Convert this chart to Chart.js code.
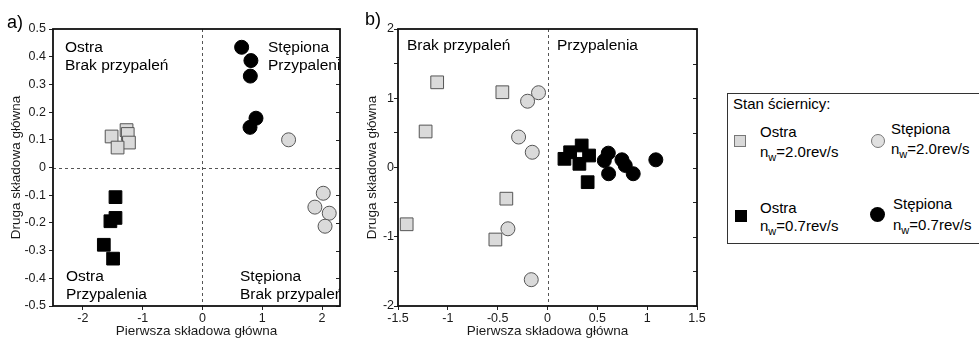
<!DOCTYPE html>
<html>
<head>
<meta charset="utf-8">
<script src="https://cdn.jsdelivr.net/npm/chart.js@4.4.0/dist/chart.umd.min.js"></script>
<style>
body{margin:0;background:#fff;font-family:Arial,"Liberation Sans",sans-serif;color:#000}
#wrap{position:relative;width:979px;height:338px;overflow:hidden}
canvas{position:absolute;top:0}
.t{position:absolute;font-size:15px;line-height:15px;white-space:nowrap}
.sub{font-size:11px;vertical-align:-4px;line-height:0}
.mk{position:absolute;box-sizing:border-box}
.panel{position:absolute;font-size:18px;line-height:18px}
</style>
</head>
<body>
<div id="wrap">
  <canvas id="chartA" width="350" height="338" style="left:0"></canvas>
  <canvas id="chartB" width="360" height="338" style="left:350px"></canvas>
  <div class="panel" style="left:7px;top:13px">a)</div>
  <div class="panel" style="left:365px;top:10px">b)</div>

  <div style="position:absolute;left:727px;top:93px;width:270px;height:151px;border:1.5px solid #333;box-sizing:border-box"></div>
  <div class="t" style="left:733px;top:96px">Stan ściernicy:</div>

  <div class="mk" style="left:734px;top:135px;width:12px;height:12px;background:#d9d9d9;border:1px solid #777"></div>
  <div class="t" style="left:760px;top:124px">Ostra</div>
  <div class="t" style="left:760px;top:144px">n<span class="sub">w</span>=2.0rev/s</div>

  <div class="mk" style="left:871px;top:134px;width:14px;height:14px;background:#e0e0e0;border:1px solid #777;border-radius:50%"></div>
  <div class="t" style="left:891px;top:121px">Stępiona</div>
  <div class="t" style="left:891px;top:141px">n<span class="sub">w</span>=2.0rev/s</div>

  <div class="mk" style="left:735px;top:210px;width:12px;height:12px;background:#000"></div>
  <div class="t" style="left:760px;top:200px">Ostra</div>
  <div class="t" style="left:760px;top:218px">n<span class="sub">w</span>=0.7rev/s</div>

  <div class="mk" style="left:870px;top:207px;width:15px;height:15px;background:#000;border-radius:50%"></div>
  <div class="t" style="left:893px;top:196px">Stępiona</div>
  <div class="t" style="left:893px;top:217px">n<span class="sub">w</span>=0.7rev/s</div>
</div>

<script>
// panel a) points [x, y]
var ostra20A = [[-1.52, 0.112], [-1.27, 0.135], [-1.25, 0.121], [-1.23, 0.090], [-1.42, 0.072]];
var ostra07A = [[-1.455, -0.107], [-1.54, -0.194], [-1.455, -0.182], [-1.65, -0.279], [-1.495, -0.329]];
var stepiona07A = [[0.655, 0.434], [0.81, 0.386], [0.80, 0.330], [0.795, 0.145], [0.895, 0.178]];
var stepiona20A = [[1.44, 0.100], [2.02, -0.093], [1.88, -0.143], [2.12, -0.165], [2.05, -0.212]];

// panel b) points [x, y]
var ostra20B = [[-1.107, 1.23], [-0.453, 1.087], [-1.223, 0.52], [-0.413, -0.45], [-1.413, -0.82], [-0.523, -1.04]];
var stepiona20B = [[-0.09, 1.08], [-0.2, 0.957], [-0.29, 0.44], [-0.153, 0.22], [-0.397, -0.885], [-0.163, -1.62]];
var ostra07B = [[0.17, 0.125], [0.227, 0.22], [0.343, 0.318], [0.417, 0.173], [0.32, 0.053], [0.403, -0.212]];
var stepiona07B = [[0.57, 0.10], [0.61, 0.207], [0.613, -0.09], [0.747, 0.111], [0.78, 0.03], [0.86, -0.09], [1.087, 0.111]];

// ticks
var xTicksA = [-2, -1, 0, 1, 2];
var yTicksA = [-0.5, -0.4, -0.3, -0.2, -0.1, 0, 0.1, 0.2, 0.3, 0.4, 0.5];
var xTicksB = [-1.5, -1, -0.5, 0, 0.5, 1, 1.5];
var yTicksB = [-2, -1.5, -1, -0.5, 0, 0.5, 1, 1.5, 2];

// quadrant captions
var captionsA = [['Ostra', 'Brak przypaleń'], ['Stępiona', 'Przypalenia'], ['Ostra', 'Przypalenia'], ['Stępiona', 'Brak przypaleń']];
var captionsB = [['Brak przypaleń'], ['Przypalenia']];

var xTitle = 'Pierwsza składowa główna';
var yTitle = 'Druga składowa główna';

Chart.defaults.font.family = 'Arial, "Liberation Sans", sans-serif';
Chart.defaults.color = '#1a1a1a';

function pts(arr) {
    return arr.map(function (p) { return {x: p[0], y: p[1]} })
}

function series(arr, filled, style) {
    return {
        data: pts(arr),
        pointStyle: style,
        pointRadius: style == 'rect' ? 9 : 7,
        pointBackgroundColor: filled ? '#000' : '#dadada',
        pointBorderColor: filled ? '#000' : '#555',
        pointBorderWidth: 1,
        showLine: false
    }
}

var framePlugin = {
    id: 'frame',
    beforeDatasetsDraw: function (chart, args, opts) {
        var a = chart.chartArea, ctx = chart.ctx;
        ctx.save();
        ctx.strokeStyle = '#555';
        ctx.lineWidth = 1;
        ctx.setLineDash([3, 3]);
        if (opts.zeroX) {
            var px = Math.round(chart.scales.x.getPixelForValue(0)) + 0.5;
            ctx.beginPath(); ctx.moveTo(px, a.top); ctx.lineTo(px, a.bottom); ctx.stroke();
        }
        if (opts.zeroY) {
            var py = Math.round(chart.scales.y.getPixelForValue(0)) + 0.5;
            ctx.beginPath(); ctx.moveTo(a.left, py); ctx.lineTo(a.right, py); ctx.stroke();
        }
        ctx.restore();
    },
    afterDraw: function (chart, args, opts) {
        var a = chart.chartArea, ctx = chart.ctx;
        var sy = chart.scales.y;
        ctx.save();
        // captions, clipped to the plot box
        ctx.beginPath();
        ctx.rect(a.left, a.top, a.right - a.left, a.bottom - a.top);
        ctx.clip();
        ctx.fillStyle = '#000';
        ctx.font = '15.5px Arial, "Liberation Sans", sans-serif';
        ctx.textBaseline = 'alphabetic';
        opts.captions.forEach(function (lines, i) {
            var pos = opts.captionPos[i];
            lines.forEach(function (s, j) {
                ctx.fillText(s, a.left + pos[0], a.top + pos[1] + j * 18);
            })
        })
        ctx.restore();

        // inward ticks on the right side, then the box
        ctx.save();
        ctx.strokeStyle = '#222';
        ctx.lineWidth = 1;
        ctx.beginPath();
        sy.ticks.forEach(function (t) {
            var py = Math.round(sy.getPixelForValue(t.value)) + 0.5;
            ctx.moveTo(a.right, py); ctx.lineTo(a.right - 4, py);
        })
        ctx.stroke();
        ctx.lineWidth = 1.8;
        ctx.strokeStyle = '#111';
        ctx.strokeRect(a.left, a.top, a.right - a.left, a.bottom - a.top);
        ctx.restore();
    }
};

function axis(min, max, ticks, pad, fit, label, titlePad, isX) {
    return {
        type: 'linear',
        min: min,
        max: max,
        afterBuildTicks: function (s) { s.ticks = ticks.map(function (v) { return {value: v} }) },
        afterFit: function (s) { if (isX) { s.height = fit } else { s.width = fit } },
        grid: {display: true, drawOnChartArea: false, drawTicks: true, tickLength: 4, tickColor: '#222', tickWidth: 1},
        border: {display: false},
        ticks: {
            autoSkip: false,
            maxRotation: 0,
            padding: pad,
            font: {size: 12.5},
            color: '#1a1a1a',
            callback: label
        },
        title: {
            display: true,
            text: isX ? xTitle : yTitle,
            font: {size: 13.5, lineHeight: 1},
            color: '#1a1a1a',
            padding: titlePad
        }
    }
}

function plain(v) { return v === 0 ? '0' : String(v) }
function intOnly(v) { return Number.isInteger(v) ? String(v) : '' }

var chartA = new Chart(document.getElementById('chartA').getContext('2d'), {
    type: 'scatter',
    data: {
        datasets: [
            series(ostra20A, false, 'rect'),
            series(ostra07A, true, 'rect'),
            series(stepiona07A, true, 'circle'),
            series(stepiona20A, false, 'circle')
        ]
    },
    options: {
        responsive: false,
        animation: false,
        layout: {padding: {left: 0, right: 9, top: 29, bottom: 0}},
        scales: {
            x: axis(-2.5, 2.3, xTicksA, 1, 32, plain, {top: 0, bottom: 0}, true),
            y: axis(-0.5, 0.5, yTicksA, 3, 53, plain, {top: 10, bottom: 0}, false)
        },
        plugins: {
            legend: {display: false},
            tooltip: {enabled: false},
            frame: {
                zeroX: true, zeroY: true,
                captions: captionsA,
                captionPos: [[12, 23], [215, 23], [13, 252], [187, 252]]
            }
        }
    },
    plugins: [framePlugin]
});

var chartB = new Chart(document.getElementById('chartB').getContext('2d'), {
    type: 'scatter',
    data: {
        datasets: [
            series(ostra20B, false, 'rect'),
            series(stepiona20B, false, 'circle'),
            series(ostra07B, true, 'rect'),
            series(stepiona07B, true, 'circle')
        ]
    },
    options: {
        responsive: false,
        animation: false,
        layout: {padding: {left: 0, right: 13, top: 29, bottom: 0}},
        scales: {
            x: axis(-1.5, 1.5, xTicksB, 1, 32, plain, {top: 0, bottom: 0}, true),
            y: axis(-2, 2, yTicksB, 0, 48, intOnly, {top: 16, bottom: 0}, false)
        },
        plugins: {
            legend: {display: false},
            tooltip: {enabled: false},
            frame: {
                zeroX: true, zeroY: false,
                captions: captionsB,
                captionPos: [[9, 21], [159, 21]]
            }
        }
    },
    plugins: [framePlugin]
});
</script>
</body>
</html>
